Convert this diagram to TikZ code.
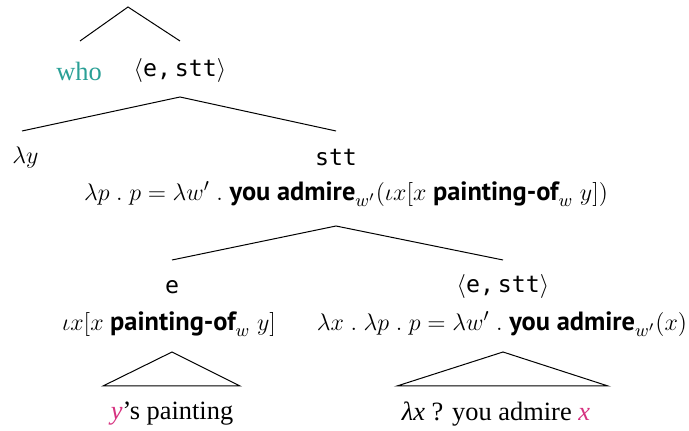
\documentclass[tikz,border=0pt]{standalone}
\usepackage{fontspec}
\setmainfont{Liberation Serif}
\newfontfamily\bsans{PT Sans}[BoldFont={PT Sans Bold}]
\newfontfamily\typ{DejaVu Sans Mono}[Scale=0.88]
\definecolor{whoteal}{RGB}{42,160,150}
\definecolor{ymag}{RGB}{214,50,128}
\newcommand{\bs}[1]{\text{\bsans\bfseries #1}}
\newcommand{\ty}[1]{\text{\typ #1}}
\newcommand{\tyest}{$\langle$\ty{e,}\kern0.15em\ty{stt}$\rangle$}
\usepackage{amsmath}
\begin{document}
\begin{tikzpicture}[x=0.5pt,y=-0.5pt,
  lbl/.style={inner sep=0pt,font=\fontsize{13.2}{15}\selectfont},
  edge/.style={line width=0.5pt,line join=miter}]
\useasboundingbox (0,0) rectangle (689,431);
% level 0
\coordinate (a0) at (128,7);
\coordinate (a0l) at (80,41);
\coordinate (a0r) at (180,41);
\draw[edge] (a0l) -- (a0) -- (a0r);
\node[lbl,text=whoteal] (who) at (79,71) {who};
\node[lbl] (t1) at (180,71) {\tyest};
% level 1
\coordinate (a1) at (180,97);
\coordinate (a1l) at (22,131);
\coordinate (a1r) at (336,131);
\draw[edge] (a1l) -- (a1) -- (a1r);
\node[lbl,anchor=west] (ly) at (12,158) {$\lambda y$};
\node[lbl] (stt) at (336,158) {\ty{stt}};
\node[lbl] (f1) at (346,194) {$\lambda p\ .\ p=\lambda w'\ .\ \bs{you admire}_{w'}(\iota x[x\ \bs{painting-of}_{w}\ y])$};
% level 2
\coordinate (a2) at (336,226);
\coordinate (a2l) at (172,260);
\coordinate (a2r) at (503,260);
\draw[edge] (a2l) -- (a2) -- (a2r);
\node[lbl] (e) at (172,287) {\ty{e}};
\node[lbl] (t2) at (503,287) {\tyest};
\node[lbl] (f2) at (169,324) {$\iota x[x\ \bs{painting-of}_{w}\ y]$};
\node[lbl] (f3) at (502,324) {$\lambda x\ .\ \lambda p\ .\ p=\lambda w'\ .\ \bs{you admire}_{w'}(x)$};
% triangles
\coordinate (tA) at (172,352);
\coordinate (tAl) at (103,386);
\coordinate (tAr) at (240,386);
\draw[edge] (tA) -- (tAl) -- (tAr) -- cycle;
\coordinate (tB) at (503,352);
\coordinate (tBl) at (397,386);
\coordinate (tBr) at (608,386);
\draw[edge] (tB) -- (tBl) -- (tBr) -- cycle;
\node[lbl] (yp) at (172,414) {\textcolor{ymag}{\textit{y}}’s painting};
\node[lbl] (lx) at (496,414) {\textit{λx} ? you admire \textcolor{ymag}{\textit{x}}};
\end{tikzpicture}
\end{document}
